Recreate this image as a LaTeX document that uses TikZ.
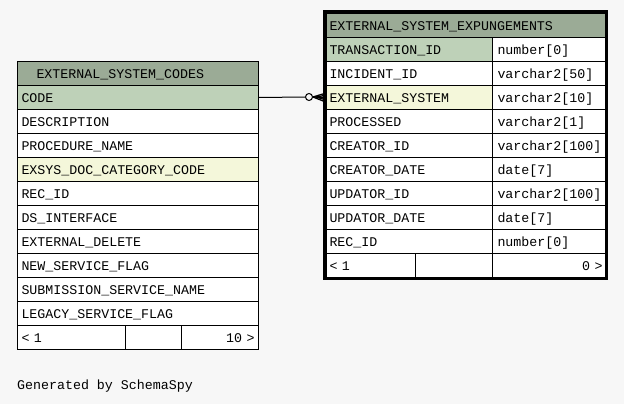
\documentclass[tikz,border=0pt]{standalone}
\usepackage{fontspec}
\newfontfamily\tabfont{Liberation Mono}
\usetikzlibrary{calc}
\definecolor{pagebg}{HTML}{F7F7F7}
\definecolor{headbg}{HTML}{9BAB96}
\definecolor{pkbg}{HTML}{BED1B8}
\definecolor{idxbg}{HTML}{F4F7DA}
\tikzset{
  cell/.style={draw=black, line width=1pt, anchor=north west, inner ysep=0pt,
    minimum height=24pt, text height=9.4pt, text depth=0pt, align=left,
    fill=white, font=\fontsize{13.3}{16}\tabfont},
  lrow/.style={cell, inner xsep=4pt, text width=233pt},
  lhead/.style={cell, fill=headbg, inner xsep=19pt, text width=203pt},
  rname/.style={cell, inner xsep=3pt, text width=160pt},
  rtype/.style={cell, inner xsep=5pt, text width=103pt},
  rhead/.style={cell, fill=headbg, inner xsep=3pt, text width=273pt},
  pk/.style={fill=pkbg},
  idx/.style={fill=idxbg},
  plain/.style={font=\fontsize{13.3}{16}\tabfont, inner sep=0pt, anchor=base west},
}
\begin{document}
\begin{tikzpicture}[x=1pt,y=-1pt]
\fill[pagebg] (0,0) rectangle (624,404);
\useasboundingbox (0,0) rectangle (624,404);
% left table
\node[lhead] (lh) at (17,61) {EXTERNAL\_SYSTEM\_CODES};
\node[lrow,pk] (l1) at (17,85) {CODE};
\node[lrow] (l2) at (17,109) {DESCRIPTION};
\node[lrow] (l3) at (17,133) {PROCEDURE\_NAME};
\node[lrow,idx] (l4) at (17,157) {EXSYS\_DOC\_CATEGORY\_CODE};
\node[lrow] (l5) at (17,181) {REC\_ID};
\node[lrow] (l6) at (17,205) {DS\_INTERFACE};
\node[lrow] (l7) at (17,229) {EXTERNAL\_DELETE};
\node[lrow] (l8) at (17,253) {NEW\_SERVICE\_FLAG};
\node[lrow] (l9) at (17,277) {SUBMISSION\_SERVICE\_NAME};
\node[lrow] (l10) at (17,301) {LEGACY\_SERVICE\_FLAG};
\node[cell, inner xsep=4pt, text width=100pt] (lf1) at (17,325) {< 1};
\node[cell, inner xsep=4pt, text width=48pt] (lf2) at (125,325) {};
\node[cell, inner xsep=4pt, text width=69pt, align=right] (lf3) at (181,325) {10 >};
% right table
\node[rhead] (rh) at (326,13) {EXTERNAL\_SYSTEM\_EXPUNGEMENTS};
\node[rname,pk] (r1) at (326,37) {TRANSACTION\_ID};
\node[rtype] (t1) at (492,37) {number[0]};
\node[rname] (r2) at (326,61) {INCIDENT\_ID};
\node[rtype] (t2) at (492,61) {varchar2[50]};
\node[rname,idx] (r3) at (326,85) {EXTERNAL\_SYSTEM};
\node[rtype] (t3) at (492,85) {varchar2[10]};
\node[rname] (r4) at (326,109) {PROCESSED};
\node[rtype] (t4) at (492,109) {varchar2[1]};
\node[rname] (r5) at (326,133) {CREATOR\_ID};
\node[rtype] (t5) at (492,133) {varchar2[100]};
\node[rname] (r6) at (326,157) {CREATOR\_DATE};
\node[rtype] (t6) at (492,157) {date[7]};
\node[rname] (r7) at (326,181) {UPDATOR\_ID};
\node[rtype] (t7) at (492,181) {varchar2[100]};
\node[rname] (r8) at (326,205) {UPDATOR\_DATE};
\node[rtype] (t8) at (492,205) {date[7]};
\node[rname] (r9) at (326,229) {REC\_ID};
\node[rtype] (t9) at (492,229) {number[0]};
\node[cell, inner xsep=3pt, text width=83pt] (rf1) at (326,253) {< 1};
\node[cell, inner xsep=3pt, text width=71pt] (rf2) at (415,253) {};
\node[cell, inner xsep=3pt, text width=107pt, align=right] (rf3) at (492,253) {0 >};
\draw[line width=3pt] (324.5,11.5) rectangle (606,278.5);
% connector
\node[circle, draw=black, line width=1pt, minimum size=7pt, inner sep=0pt] (dot) at (309,97) {};
\draw[line width=1pt] (l1.east) -- (dot.west);
\draw[line width=1pt] (dot.east) -- ($(r3.west)+(-1.5,0)$);
\draw[line width=1.3pt] (dot.east) -- ($(r3.west)+(-1.5,-4)$);
\draw[line width=1.3pt] (dot.east) -- ($(r3.west)+(-1.5,4)$);
\draw[line width=1.3pt] ($(dot.east)+(3,0)$) -- ($(r3.west)+(-1.5,-2)$);
\draw[line width=1.3pt] ($(dot.east)+(3,0)$) -- ($(r3.west)+(-1.5,2)$);
% caption
\node[plain] (gen) at (17,389.5) {Generated by SchemaSpy};
\end{tikzpicture}
\end{document}
